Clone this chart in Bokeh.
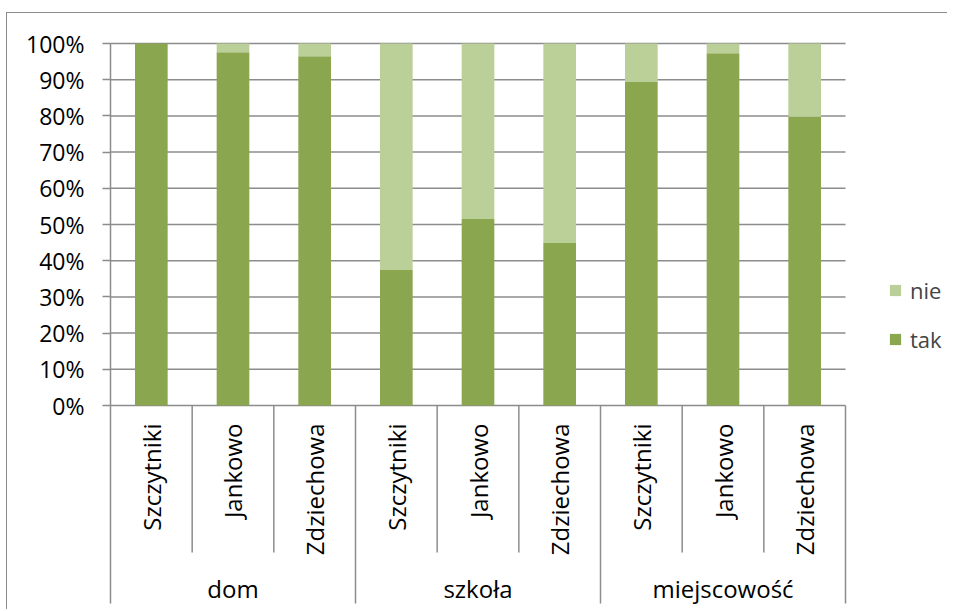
import math
from bokeh.plotting import figure
from bokeh.models import (FactorRange, Range1d, FixedTicker, PrintfTickFormatter,
                          ColumnDataSource, Legend, LegendItem)
from bokeh.core.properties import value
from bokeh.embed import file_html
from bokeh.resources import INLINE

# ---- data ----
groups = ["dom", "szkoła", "miejscowość"]
places = ["Szczytniki", "Jankowo", "Zdziechowa"]
tak = [100.0, 97.6, 96.5, 37.4, 51.5, 44.9, 89.4, 97.3, 79.8]
nie = [0.0, 2.4, 3.5, 62.6, 48.5, 55.1, 10.6, 2.7, 20.2]
series = ["tak", "nie"]
y_ticks = [0, 10, 20, 30, 40, 50, 60, 70, 80, 90, 100]

colors = ["#8aa64e", "#bbcf99"]
grid_col = "#8c8c8c"
FONT = "Open Sans"

factors = [(g, s) for g in groups for s in places]

p = figure(
    x_range=FactorRange(*factors, range_padding=1.2612, range_padding_units="absolute",
                        factor_padding=0, subgroup_padding=0, group_padding=0),
    y_range=Range1d(-56.63, 108.29),
    width=941, height=597,
    output_backend="svg", toolbar_location=None,
    x_axis_location=None,
    min_border_left=0, min_border_right=0, min_border_top=0, min_border_bottom=0,
)
p.styles = {"margin-left": "6px", "margin-top": "12px",
            "border-left": "1px solid #8c8c8c", "border-top": "1px solid #8c8c8c"}
p.outline_line_color = None
p.background_fill_color = "white"
p.border_fill_color = "white"
p.xgrid.visible = False
p.ygrid.visible = False

# horizontal gridlines across the category span
first_edge = (factors[0][0], factors[0][1], -0.5)
last_edge = (factors[-1][0], factors[-1][1], 0.5)
p.segment(x0=[first_edge] * len(y_ticks), y0=y_ticks,
          x1=[last_edge] * len(y_ticks), y1=y_ticks,
          line_color=grid_col, line_width=1.5)

# bars
src = ColumnDataSource(dict(x=factors, tak=tak, nie=nie))
rs = p.vbar_stack(series, x="x", width=0.4, color=colors, line_color=None, source=src)

# y axis, pinned to the left edge of the category span
ax = p.yaxis[0]
ax.fixed_location = 0
ax.ticker = FixedTicker(ticks=y_ticks)
ax.formatter = PrintfTickFormatter(format="%d%%")
ax.bounds = (0, 100)
ax.axis_line_color = grid_col
ax.axis_line_width = 1.5
ax.major_tick_line_color = grid_col
ax.major_tick_line_width = 1.5
ax.major_tick_out = 8
ax.major_tick_in = 0
ax.minor_tick_line_color = None
ax.major_label_standoff = 18
ax.major_label_text_font = FONT
ax.major_label_text_font_size = "23px"
ax.major_label_text_color = "black"

# category separators (inner, within groups)
inner_x = [(g, s, 0.5) for g in groups for s in places[:-1]]
p.segment(x0=inner_x, y0=[0] * len(inner_x), x1=inner_x, y1=[-40.6] * len(inner_x),
          line_color=grid_col, line_width=1.5)
# group separators
group_x = [(g, places[0], -0.5) for g in groups] + [last_edge]
p.segment(x0=group_x, y0=[0] * len(group_x), x1=group_x,
          y1=[-54.7] * len(group_x), line_color=grid_col, line_width=1.5)

# x labels
lab_src = ColumnDataSource(dict(x=factors, y=[0] * len(factors), t=[s for _, s in factors]))
p.text(x="x", y="y", text="t", source=lab_src, angle=math.pi / 2, y_offset=18,
       text_align="right", text_baseline="middle",
       text_font=value(FONT), text_font_size="24px", text_color="black")
grp_src = ColumnDataSource(dict(x=groups, y=[0] * len(groups), t=groups))
p.text(x="x", y="y", text="t", source=grp_src, y_offset=183,
       text_align="center", text_baseline="middle",
       text_font=value(FONT), text_font_size="24px", text_color="black")

# legend
legend = Legend(
    items=[LegendItem(label="nie", renderers=[rs[1]]),
           LegendItem(label="tak", renderers=[rs[0]])],
    location=(881, 256), margin=0, padding=0, spacing=19,
    glyph_width=14, glyph_height=14, label_standoff=8,
    label_text_font=FONT, label_text_font_size="22px",
    border_line_color=None, background_fill_alpha=0,
)
p.add_layout(legend)

open("out.html", "w").write(file_html(p, INLINE))
